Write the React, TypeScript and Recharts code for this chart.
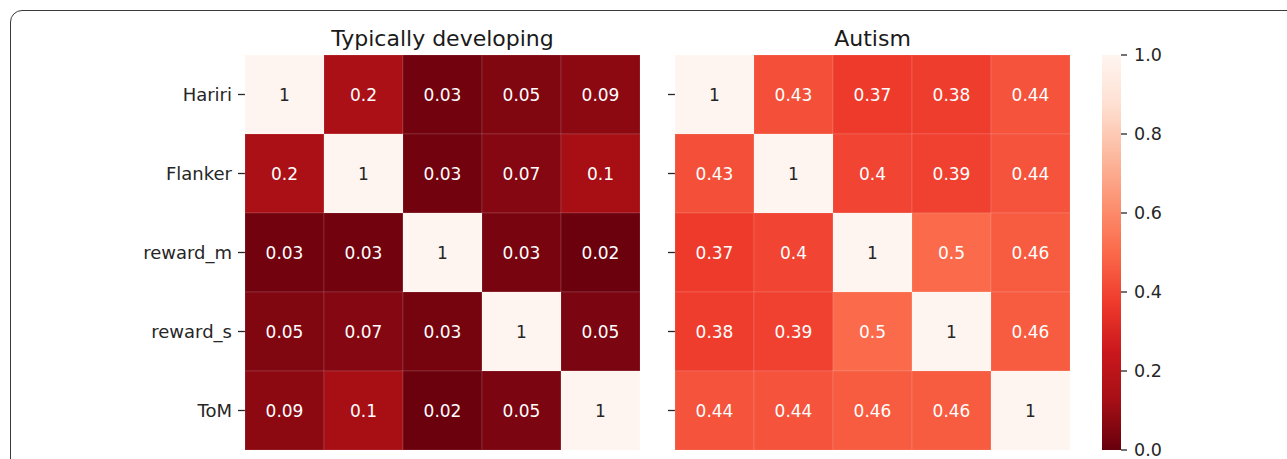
import React from 'react';
import { ScatterChart, Scatter, XAxis, YAxis, BarChart, Bar } from 'recharts';

const labels = ['Hariri', 'Flanker', 'reward_m', 'reward_s', 'ToM'];

// annotated values
const typicalValues: number[][] = [
  [1, 0.2, 0.03, 0.05, 0.09],
  [0.2, 1, 0.03, 0.07, 0.1],
  [0.03, 0.03, 1, 0.03, 0.02],
  [0.05, 0.07, 0.03, 1, 0.05],
  [0.09, 0.1, 0.02, 0.05, 1],
];

// colour intensity read from the cell shades of the left panel
const typicalShade: number[][] = [
  [1, 0.14, 0.02, 0.05, 0.075],
  [0.14, 1, 0.02, 0.06, 0.13],
  [0.02, 0.02, 1, 0.035, 0.01],
  [0.05, 0.06, 0.03, 1, 0.04],
  [0.075, 0.13, 0.01, 0.04, 1],
];

const autismValues: number[][] = [
  [1, 0.43, 0.37, 0.38, 0.44],
  [0.43, 1, 0.4, 0.39, 0.44],
  [0.37, 0.4, 1, 0.5, 0.46],
  [0.38, 0.39, 0.5, 1, 0.46],
  [0.44, 0.44, 0.46, 0.46, 1],
];

const titles = ['Typically developing', 'Autism'];
const colorbarTicks = [0, 0.2, 0.4, 0.6, 0.8, 1.0];

// matplotlib "Reds" colormap stops (used reversed)
const redsStops = ['#fff5f0', '#fee0d2', '#fcbba1', '#fc9272', '#fb6a4a', '#ef3b2c', '#cb181d', '#a50f15', '#67000d'];

const hexToRgb = (h: string) => [parseInt(h.slice(1, 3), 16), parseInt(h.slice(3, 5), 16), parseInt(h.slice(5, 7), 16)];

function redsR(v: number): string {
  const t = Math.min(1, Math.max(0, 1 - v)) * (redsStops.length - 1);
  const i = Math.min(redsStops.length - 2, Math.floor(t));
  const f = t - i;
  const a = hexToRgb(redsStops[i]);
  const b = hexToRgb(redsStops[i + 1]);
  const c = a.map((x, k) => Math.round(x + (b[k] - x) * f));
  return `rgb(${c[0]},${c[1]},${c[2]})`;
}

const FONT = 'DejaVu Sans, sans-serif';
const N = labels.length;
const CHART_H = 459;
const MARGIN_TOP = 55;
const MARGIN_BOTTOM = 9;
const PLOT = CHART_H - MARGIN_TOP - MARGIN_BOTTOM; // 395
const CELL = PLOT / N;

const toCells = (m: number[][], shade: number[][]) =>
  m.flatMap((row, r) => row.map((v, c) => ({ x: c + 0.5, y: r + 0.5, v, s: shade[r][c] })));

const CellShape = (props: any) => {
  const { cx, cy, payload } = props;
  if (cx == null || cy == null) return null;
  const v = payload.v as number;
  const s = payload.s as number;
  const dark = s > 0.7;
  return (
    <g>
      <rect
        x={cx - CELL / 2}
        y={cy - CELL / 2}
        width={CELL}
        height={CELL}
        fill={redsR(s)}
        stroke="rgba(255,255,255,0.13)"
        strokeWidth={1}
      />
      <text
        x={cx}
        y={cy}
        dy="0.36em"
        textAnchor="middle"
        fontFamily={FONT}
        fontSize={17}
        fill={dark ? '#262626' : '#ffffff'}
      >
        {String(v)}
      </text>
    </g>
  );
};

const yTicks = labels.map((_, i) => i + 0.5);

function Heatmap({ values, shade, showLabels, left, yAxisWidth }: { values: number[][]; shade: number[][]; showLabels: boolean; left: number; yAxisWidth: number }) {
  const width = yAxisWidth + PLOT + 20;
  return (
    <div style={{ position: 'absolute', left, top: 0 }}>
      <ScatterChart width={width} height={CHART_H} margin={{ top: MARGIN_TOP, right: 20, bottom: MARGIN_BOTTOM, left: 0 }}>
        <XAxis type="number" dataKey="x" domain={[0, N]} hide />
        <YAxis
          type="number"
          dataKey="y"
          domain={[0, N]}
          reversed
          ticks={yTicks}
          interval={0}
          width={yAxisWidth}
          axisLine={false}
          tickSize={7}
          tickMargin={6}
          tickLine={{ stroke: '#262626', strokeWidth: 1.3 }}
          tick={{ fill: '#262626', fontSize: 18, fontFamily: FONT }}
          tickFormatter={(t: number) => (showLabels ? labels[Math.floor(t)] : '')}
        />
        <Scatter data={toCells(values, shade)} shape={CellShape} isAnimationActive={false} />
      </ScatterChart>
    </div>
  );
}

function Colorbar() {
  return (
    <div style={{ position: 'absolute', left: 1090, top: 0 }}>
      <BarChart
        width={197}
        height={CHART_H}
        data={[{ name: 'cb', v: 1 }]}
        margin={{ top: MARGIN_TOP, right: 106, bottom: MARGIN_BOTTOM, left: 12 }}
        barCategoryGap={0}
      >
        <defs>
          <linearGradient id="cbGrad" x1="0" y1="0" x2="0" y2="1">
            {redsStops.map((c, i) => (
              <stop key={i} offset={`${(i / (redsStops.length - 1)) * 100}%`} stopColor={c} />
            ))}
          </linearGradient>
        </defs>
        <XAxis dataKey="name" type="category" hide />
        <YAxis
          orientation="right"
          type="number"
          domain={[0, 1]}
          ticks={colorbarTicks}
          interval={0}
          width={60}
          axisLine={false}
          tickSize={6}
          tickMargin={7}
          tickLine={{ stroke: '#262626', strokeWidth: 1.3 }}
          tick={{ fill: '#262626', fontSize: 17.5, fontFamily: FONT, textAnchor: 'start' }}
          tickFormatter={(t: number) => t.toFixed(1)}
        />
        <Bar dataKey="v" fill="url(#cbGrad)" isAnimationActive={false} />
      </BarChart>
    </div>
  );
}

export default function App() {
  return (
    <div style={{ position: 'absolute', left: 0, top: 0, width: 1287, height: 459, overflow: 'hidden', background: '#ffffff' }}>
      <div
        style={{
          position: 'absolute',
          left: 10,
          top: 10,
          width: 1320,
          height: 500,
          border: '1.5px solid #3a3a3a',
          borderRadius: 12,
          boxSizing: 'border-box',
        }}
      />
      <Heatmap values={typicalValues} shade={typicalShade} showLabels left={0} yAxisWidth={245} />
      <Heatmap values={autismValues} shade={autismValues} showLabels={false} left={600} yAxisWidth={75} />
      <Colorbar />
      <svg width={1287} height={459} style={{ position: 'absolute', left: 0, top: 0, pointerEvents: 'none' }}>
        <text x={245 + PLOT / 2} y={46} textAnchor="middle" fontFamily={FONT} fontSize={22} fill="#1a1a1a">
          {titles[0]}
        </text>
        <text x={675 + PLOT / 2} y={46} textAnchor="middle" fontFamily={FONT} fontSize={22} fill="#1a1a1a">
          {titles[1]}
        </text>
      </svg>
    </div>
  );
}
